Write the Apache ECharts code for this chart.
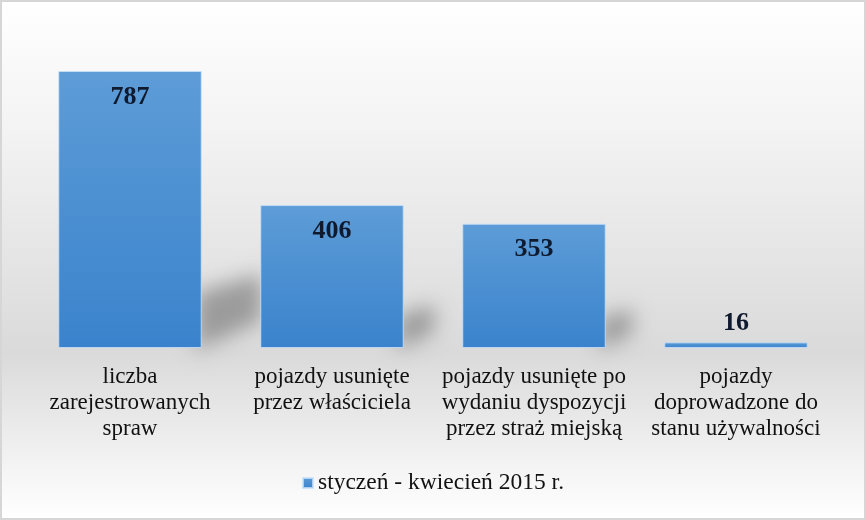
<!DOCTYPE html>
<html>
<head>
<meta charset="utf-8">
<script src="https://cdn.jsdelivr.net/npm/echarts@6/dist/echarts.min.js"></script>
<style>
  html, body { margin: 0; padding: 0; background: #fff; }
  #main { width: 866px; height: 520px; }
</style>
</head>
<body>
<div id="main"></div>
<script>
// dane z wykresu
var categories = [
    'liczba\nzarejestrowanych\nspraw',
    'pojazdy usunięte\nprzez właściciela',
    'pojazdy usunięte po\nwydaniu dyspozycji\nprzez straż miejską',
    'pojazdy\ndoprowadzone do\nstanu używalności'
];
var values = [787, 406, 353, 16];
var seriesName = 'styczeń - kwiecień 2015 r.';

var serif = '"Liberation Serif", "DejaVu Serif", serif';
var barGap = 0.29;
var SHIFT = 2000; // kształt cienia poza ekranem, widać tylko rozmyty cień

var myChart = echarts.init(document.getElementById('main'));

// etykiety: mały słupek ma etykietę nad sobą
var barData = values.map(function (v) {
    var item = { value: v };
    if (v < 100) {
        item.label = { position: 'top', distance: 6 };
    }
    return item;
});

myChart.setOption({
    backgroundColor: {
        type: 'linear', x: 0, y: 0, x2: 0, y2: 1,
        colorStops: [
            { offset: 0, color: '#ffffff' },
            { offset: 0.25, color: '#f3f3f3' },
            { offset: 0.68, color: '#dadada' },
            { offset: 0.9, color: '#f4f4f4' },
            { offset: 1, color: '#ffffff' }
        ]
    },
    animation: false,
    graphic: [{
        type: 'rect',
        shape: { x: 1, y: 1, width: 864, height: 518 },
        style: { fill: 'none', stroke: '#d6d6d6', lineWidth: 2 },
        silent: true,
        z: 100
    }],
    legend: {
        data: [seriesName],
        bottom: 20,
        left: 'center',
        icon: 'rect',
        itemWidth: 10,
        itemHeight: 10,
        itemGap: 10,
        textStyle: { fontFamily: serif, fontSize: 23.5, color: '#111' }
    },
    grid: { left: 29, right: 29, top: 71, bottom: 172 },
    xAxis: {
        type: 'category',
        data: categories,
        axisLine: { show: false },
        axisTick: { show: false },
        axisLabel: {
            interval: 0,
            margin: 16,
            fontFamily: serif,
            fontSize: 23,
            lineHeight: 26,
            color: '#111'
        }
    },
    yAxis: {
        type: 'value',
        min: 0,
        max: 787,
        show: false,
        splitLine: { show: false }
    },
    series: [
        {
            // cień pod słupkami
            type: 'custom',
            name: 'cien',
            z: 1,
            silent: true,
            data: values.map(function (v, i) { return [i, v]; }),
            renderItem: function (params, api) {
                var base = api.coord([api.value(0), 0]);
                var top = api.coord([api.value(0), api.value(1)]);
                var h = base[1] - top[1];
                if (h < 20) {
                    return null;
                }
                var half = api.size([1, 0])[0] * (1 - barGap) / 2;
                var xr = base[0] + half - 6;
                var y0 = base[1] - SHIFT;
                var w = 0.22 * h + 5;
                var s = 0.17 * h + 8;
                return {
                    type: 'polygon',
                    shape: {
                        points: [
                            [xr, y0 + 2],
                            [xr, y0 - s],
                            [xr + w, y0 - s * 1.35],
                            [xr + w, y0 - s * 0.5]
                        ]
                    },
                    style: {
                        fill: '#000',
                        shadowBlur: 20,
                        shadowOffsetY: SHIFT,
                        shadowColor: 'rgba(100,100,100,0.55)'
                    }
                };
            }
        },
        {
            name: seriesName,
            type: 'bar',
            z: 2,
            barCategoryGap: (barGap * 100) + '%',
            data: barData,
            itemStyle: {
                color: {
                    type: 'linear', x: 0, y: 0, x2: 0, y2: 1,
                    colorStops: [
                        { offset: 0, color: '#5d9cd7' },
                        { offset: 1, color: '#3a83cc' }
                    ]
                },
                borderColor: 'rgba(200,225,250,0.8)',
                borderWidth: 1
            },
            label: {
                show: true,
                position: 'insideTop',
                distance: 13,
                fontFamily: serif,
                fontSize: 26,
                fontWeight: 'bold',
                color: '#0f1a2e'
            }
        }
    ]
});
</script>
</body>
</html>
